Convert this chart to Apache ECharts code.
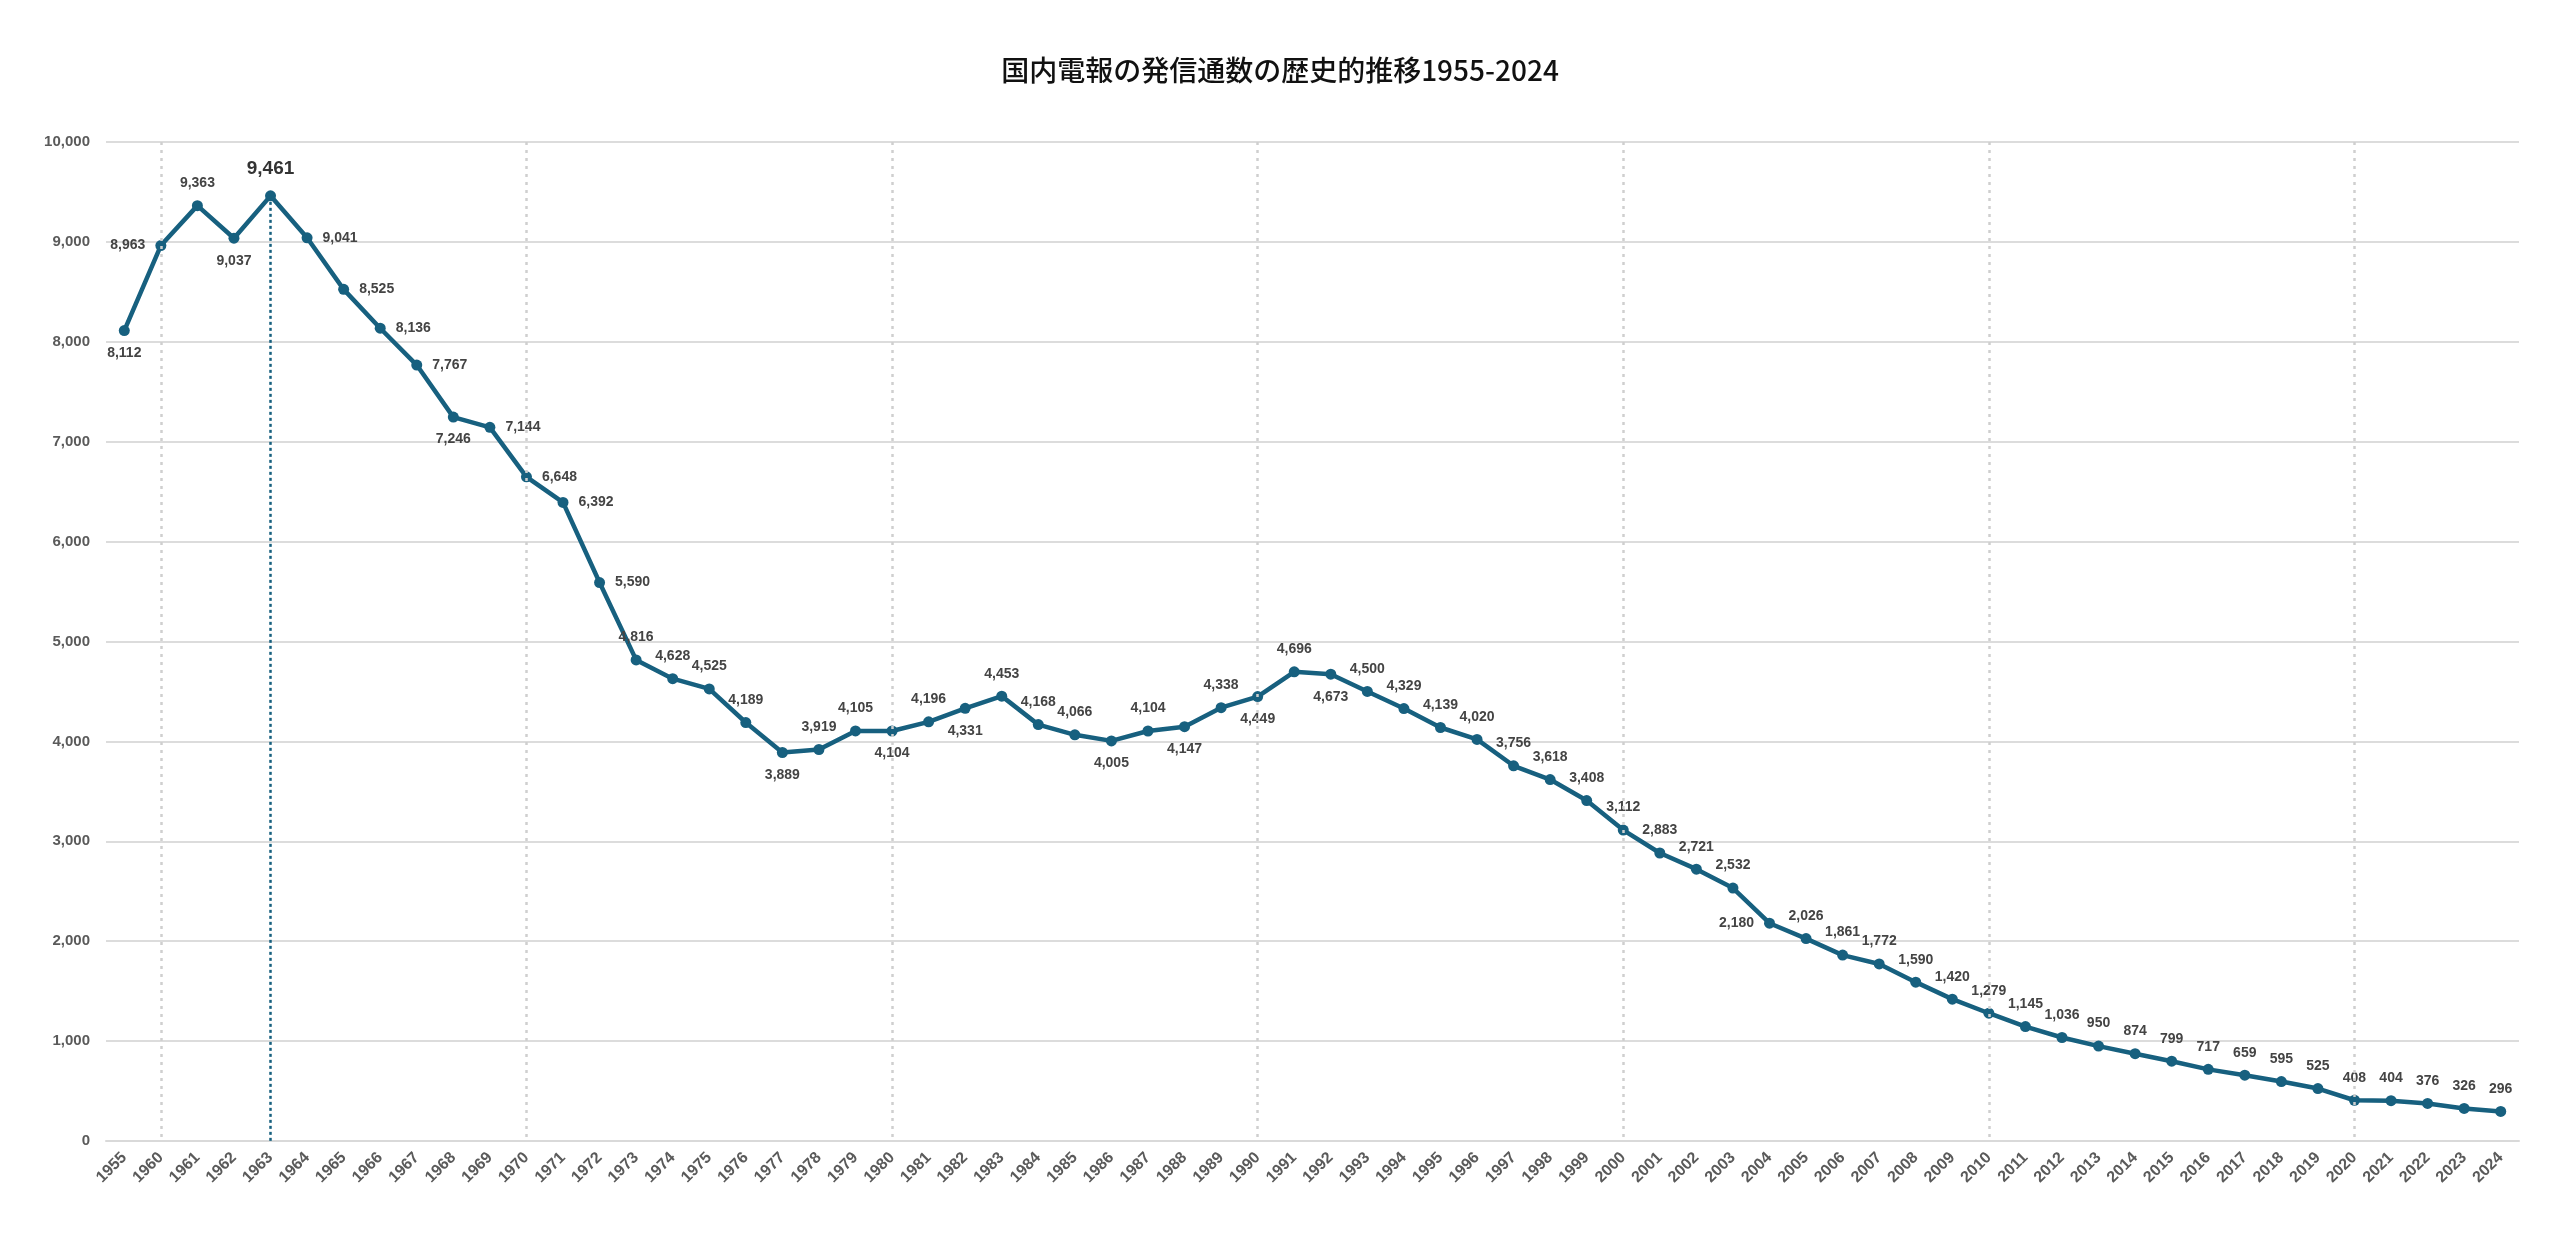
<!DOCTYPE html>
<html>
<head>
<meta charset="utf-8">
<title>国内電報の発信通数の歴史的推移</title>
<script src="https://cdn.jsdelivr.net/npm/echarts@6/dist/echarts.min.js"></script>
<style>
  html, body { margin: 0; padding: 0; background: #fff; }
  #chart { width: 2560px; height: 1247px; }
</style>
</head>
<body>
<div id="chart"></div>
<script>
  // 年（1955年の次は1960年から毎年）
  const years = ['1955',
    '1960','1961','1962','1963','1964','1965','1966','1967','1968','1969',
    '1970','1971','1972','1973','1974','1975','1976','1977','1978','1979',
    '1980','1981','1982','1983','1984','1985','1986','1987','1988','1989',
    '1990','1991','1992','1993','1994','1995','1996','1997','1998','1999',
    '2000','2001','2002','2003','2004','2005','2006','2007','2008','2009',
    '2010','2011','2012','2013','2014','2015','2016','2017','2018','2019',
    '2020','2021','2022','2023','2024'];

  // 発信通数（万通）
  const counts = [8112,
    8963, 9363, 9037, 9461, 9041, 8525, 8136, 7767, 7246, 7144,
    6648, 6392, 5590, 4816, 4628, 4525, 4189, 3889, 3919, 4105,
    4104, 4196, 4331, 4453, 4168, 4066, 4005, 4104, 4147, 4338,
    4449, 4696, 4673, 4500, 4329, 4139, 4020, 3756, 3618, 3408,
    3112, 2883, 2721, 2532, 2180, 2026, 1861, 1772, 1590, 1420,
    1279, 1145, 1036, 950, 874, 799, 717, 659, 595, 525,
    408, 404, 376, 326, 296];

  const decadeYears = ['1960', '1970', '1980', '1990', '2000', '2010', '2020'];
  const yTicks = [0, 1000, 2000, 3000, 4000, 5000, 6000, 7000, 8000, 9000, 10000];

  // ラベルの向き（指定なしは上）
  const labelSide = {
    '1955': 'bottom', '1960': 'left', '1962': 'bottom',
    '1964': 'right', '1965': 'right', '1966': 'right', '1967': 'right',
    '1968': 'bottom', '1969': 'right', '1970': 'right', '1971': 'right', '1972': 'right',
    '1977': 'bottom', '1980': 'bottom', '1982': 'bottom', '1986': 'bottom',
    '1988': 'bottom', '1990': 'bottom', '1992': 'bottom', '2004': 'left'
  };

  const lineColor = '#17607f';
  const maxVal = Math.max.apply(null, counts);
  const maxYear = years[counts.indexOf(maxVal)];
  const yMax = yTicks[yTicks.length - 1];

  const seriesData = counts.map(function (v, i) {
    const item = { value: v, label: { position: labelSide[years[i]] || 'top' } };
    if (v === maxVal) {
      item.label.fontSize = 19;
      item.label.color = '#333';
      item.label.distance = 12;
    }
    return item;
  });

  // 10年ごとの点線と最大値の縦線
  const guideLines = decadeYears.map(function (y) {
    return [
      { coord: [y, yMax], lineStyle: { color: '#cfcfcf', type: [3, 5], width: 2.5 } },
      { coord: [y, 0] }
    ];
  });
  guideLines.push([
    { coord: [maxYear, maxVal], lineStyle: { color: lineColor, type: [3, 3], width: 2.5 } },
    { coord: [maxYear, 0] }
  ]);

  const chart = echarts.init(document.getElementById('chart'));
  chart.setOption({
    animation: false,
    backgroundColor: '#fff',
    title: {
      text: '国内電報の発信通数の歴史的推移1955-2024',
      left: 'center',
      top: 51,
      textStyle: {
        fontFamily: 'Noto Sans CJK JP',
        fontSize: 28,
        fontWeight: 500,
        color: '#111'
      }
    },
    grid: { left: 106, right: 41, top: 142, bottom: 106 },
    xAxis: {
      type: 'category',
      data: years,
      boundaryGap: true,
      axisLine: { lineStyle: { color: '#d9d9d9', width: 2 } },
      axisTick: { show: false },
      axisLabel: {
        interval: 0,
        rotate: 45,
        margin: 14,
        color: '#5a5a5a',
        fontSize: 16,
        fontWeight: 'bold',
        fontFamily: 'Liberation Sans'
      },
      splitLine: { show: false }
    },
    yAxis: {
      type: 'value',
      min: yTicks[0],
      max: yMax,
      interval: 1000,
      axisLine: { show: false },
      axisTick: { show: false },
      axisLabel: {
        margin: 16,
        color: '#5a5a5a',
        fontSize: 15,
        fontWeight: 'bold',
        fontFamily: 'Liberation Sans',
        formatter: function (v) { return v.toLocaleString('en-US'); }
      },
      splitLine: { lineStyle: { color: '#dcdcdc', width: 2 } }
    },
    series: [
      {
        type: 'line',
        data: seriesData,
        symbol: 'circle',
        symbolSize: 11,
        lineStyle: { color: lineColor, width: 4.5 },
        itemStyle: { color: lineColor },
        label: {
          show: true,
          distance: 10,
          fontSize: 14,
          fontWeight: 'bold',
          fontFamily: 'Liberation Sans',
          color: '#444',
          formatter: function (p) { return p.value.toLocaleString('en-US'); }
        },
        markLine: {
          silent: true,
          symbol: 'none',
          label: { show: false },
          data: guideLines
        },
        z: 3
      }
    ]
  });
</script>
</body>
</html>
